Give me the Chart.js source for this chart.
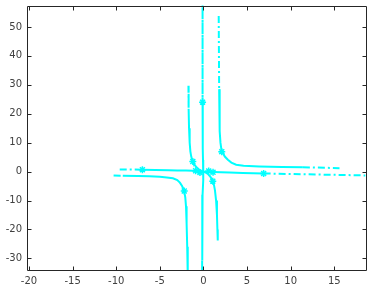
<!DOCTYPE html>
<html>
<head>
<meta charset="utf-8">
<script src="https://cdn.jsdelivr.net/npm/chart.js@4.4.1/dist/chart.umd.min.js"></script>
<style>
    html, body { margin: 0; padding: 0; background: #fff; }
    #wrap { width: 371px; height: 288px; }
</style>
</head>
<body>
<div id="wrap"><canvas id="myChart" width="371" height="288"></canvas></div>
<script>
// tick labels
const xTicks = [-20, -15, -10, -5, 0, 5, 10, 15];
const yTicks = [-30, -20, -10, 0, 10, 20, 30, 40, 50];

// upper right branch
const c1X = [1.75, 1.8, 1.84, 1.88, 1.95, 2.05, 2.2, 2.45, 2.8, 3.2, 3.75, 4.6, 6.4, 9.0, 11.4, 15.6];
const c1Y = [53.8, 28.5, 20, 14, 10, 7.8, 6.6, 5.2, 4.1, 3.1, 2.4, 2.05, 1.8, 1.6, 1.5, 1.2];

// lower left branch
const c2X = [-10.3, -9.25, -7.5, -6.2, -5, -4.2, -3.5, -3.0, -2.7, -2.45, -2.3, -2.18, -2.08, -2.0, -1.93, -1.86, -1.8];
const c2Y = [-1.35, -1.4, -1.5, -1.6, -1.8, -2.0, -2.3, -2.9, -3.8, -5.0, -6.0, -7.2, -9, -12, -18, -26, -36];

// near horizontal line through the middle
const c3X = [-9.6, -7.0, -5.5, -4, -3, -2, -1.2, -0.6, 0, 0.6, 1.2, 2, 3, 4.5, 6.9, 20];
const c3Y = [0.7, 0.68, 0.55, 0.45, 0.4, 0.35, 0.3, 0.15, 0, -0.1, -0.15, -0.2, -0.3, -0.45, -0.65, -1.4];

// near vertical line through the middle
const c4X = [-0.1, -0.1, -0.09, -0.07, -0.05, -0.02, 0, -0.05, -0.1, -0.12, -0.15, -0.15];
const c4Y = [62, 24, 15, 8, 4, 1.5, 0, -3, -8, -15, -30.7, -40];

// s shaped curve
const c5X = [-1.72, -1.7, -1.65, -1.58, -1.5, -1.4, -1.3, -1.22, -1.05, -0.8, -0.5, -0.2, 0, 0.25, 0.5, 0.75, 0.92, 1.07, 1.2, 1.32, 1.45, 1.55, 1.6, 1.64];
const c5Y = [29.7, 21.6, 15, 10, 7, 5.2, 4.2, 3.5, 2.5, 1.5, 0.7, 0.2, 0, -0.3, -0.8, -1.6, -2.4, -3.3, -4.5, -6.5, -10, -15, -20, -23.8];

// asterisk markers
const markX = [-7.0, 6.9, -0.1, 2.1, -2.2, -1.22, 1.07, -0.9, -0.4, 0.6, 1.1];
const markY = [0.68, -0.65, 24, 6.9, -6.7, 3.5, -3.3, 0.3, -0.3, 0.2, -0.2];

const cyan = '#00ffff';
const dashDot = [7, 3, 2, 3];

function toPoints(xs, ys) {
    return xs.map(function (x, i) {
        return { x: x, y: ys[i] };
    });
}

// a curve, with dash-dot on the first / last few segments
function makeCurve(xs, ys, dashHead, dashTail) {
    const pts = toPoints(xs, ys);
    const n = pts.length - 1;
    return {
        data: pts,
        showLine: true,
        borderColor: cyan,
        backgroundColor: cyan,
        borderWidth: 2,
        pointRadius: 0,
        clip: 0,
        segment: {
            borderDash: c => (c.p0DataIndex < dashHead || c.p1DataIndex > n - dashTail) ? dashDot : undefined
        }
    };
}

// box with inward ticks, like the original
const framePlugin = {
    id: 'frame',
    afterDraw(chart) {
        const c = chart.ctx;
        const a = chart.chartArea;
        const sx = chart.scales.x;
        const sy = chart.scales.y;
        const L = Math.round(a.left) + 0.5, R = Math.round(a.right) + 0.5;
        const T = Math.round(a.top) + 0.5, B = Math.round(a.bottom) + 0.5;
        c.save();
        c.strokeStyle = '#262626';
        c.lineWidth = 1;
        c.beginPath();
        c.rect(L, T, R - L, B - T);
        xTicks.forEach(function (v) {
            const p = Math.round(sx.getPixelForValue(v)) + 0.5;
            c.moveTo(p, B); c.lineTo(p, B - 4);
            c.moveTo(p, T); c.lineTo(p, T + 4);
        });
        yTicks.forEach(function (v) {
            const p = Math.round(sy.getPixelForValue(v)) + 0.5;
            c.moveTo(L, p); c.lineTo(L + 4, p);
            c.moveTo(R, p); c.lineTo(R - 4, p);
        });
        c.stroke();
        c.restore();
    }
};

const tickFont = { family: 'DejaVu Sans', size: 10 };

const ctx = document.getElementById('myChart').getContext('2d');
const myChart = new Chart(ctx, {
    type: 'scatter',
    data: {
        datasets: [
            makeCurve(c1X, c1Y, 1, 1),
            makeCurve(c2X, c2Y, 1, 0),
            makeCurve(c3X, c3Y, 1, 1),
            makeCurve(c4X, c4Y, 1, 1),
            makeCurve(c5X, c5Y, 1, 0),
            {
                data: toPoints(markX, markY),
                pointStyle: 'star',
                pointRadius: 3.5,
                borderWidth: 1.5,
                borderColor: cyan,
                backgroundColor: cyan,
                showLine: false
            }
        ]
    },
    options: {
        responsive: false,
        animation: false,
        events: [],
        layout: { padding: { top: 2, right: 5, left: 0, bottom: 0 } },
        plugins: {
            legend: { display: false },
            tooltip: { enabled: false }
        },
        scales: {
            x: {
                type: 'linear',
                min: -20.23,
                max: 18.58,
                grid: { display: false, drawTicks: false },
                border: { display: false },
                afterBuildTicks: s => { s.ticks = xTicks.map(v => ({ value: v })); },
                afterFit: s => { s.height = 18; s.paddingLeft = 0; s.paddingRight = 0; },
                ticks: { color: '#404040', font: tickFont, padding: 5, maxRotation: 0 }
            },
            y: {
                type: 'linear',
                min: -34.0,
                max: 57.4,
                grid: { display: false, drawTicks: false },
                border: { display: false },
                afterBuildTicks: s => { s.ticks = yTicks.map(v => ({ value: v })); },
                afterFit: s => { s.width = 27; s.paddingTop = 0; s.paddingBottom = 0; },
                ticks: { color: '#404040', font: tickFont, padding: 5 }
            }
        }
    },
    plugins: [framePlugin]
});
</script>
</body>
</html>
